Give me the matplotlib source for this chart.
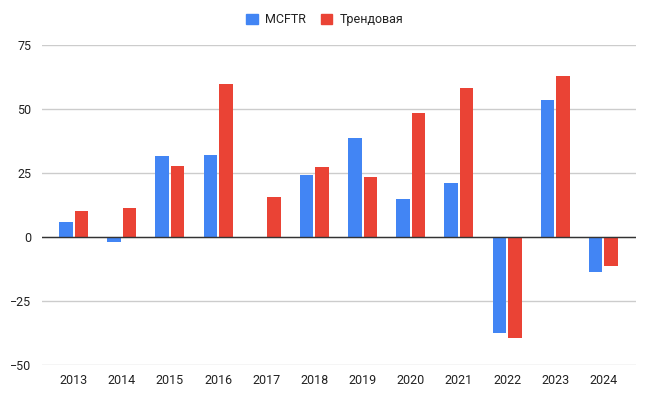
import matplotlib
matplotlib.use('Agg')
import matplotlib.pyplot as plt
from matplotlib.patches import Patch
import numpy as np

plt.rcParams['font.family'] = ['Roboto', 'DejaVu Sans']

years = ['2013', '2014', '2015', '2016', '2017', '2018', '2019', '2020',
         '2021', '2022', '2023', '2024']
mcftr = [6.1, -1.9, 31.9, 32.3, 0, 24.3, 38.7, 14.8, 21.4, -37.4, 53.5, -13.7]
trend = [10.3, 11.4, 27.7, 60.0, 15.7, 27.4, 23.7, 48.6, 58.4, -39.2, 63.1, -11.1]

blue = '#4285F4'
red = '#EA4335'

fig = plt.figure(figsize=(6.5, 3.93), dpi=100)
ax = fig.add_axes([0.065, 0.070, 0.913, 0.815])

x = np.arange(len(years))
w = 0.28
gap = 0.04
ax.bar(x - (w + gap) / 2, mcftr, w, color=blue, zorder=3)
ax.bar(x + (w + gap) / 2, trend, w, color=red, zorder=3)

ax.set_ylim(-50, 75)
ax.set_yticks([-50, -25, 0, 25, 50, 75])
ax.set_xlim(-0.65, 11.67)
ax.set_xticks(x)
ax.set_xticklabels(years)
ax.grid(axis='y', color='#cccccc', linewidth=1, zorder=0)
ax.axhline(0, color='#333333', linewidth=1, zorder=4)
for s in ax.spines.values():
    s.set_visible(False)
ax.tick_params(length=0, labelsize=9, colors='#222222')
ax.tick_params(axis='y', pad=8)
ax.tick_params(axis='x', pad=6)

handles = [Patch(color=blue), Patch(color=red)]
fig.legend(handles, ['MCFTR', 'Трендовая'], loc='upper center',
           bbox_to_anchor=(0.5, 0.995), ncol=2, frameon=False, fontsize=9,
           handlelength=0.9, handleheight=0.9, columnspacing=1.2,
           handletextpad=0.6, labelcolor='#222222')

fig.savefig('out.png', dpi=100, facecolor='white')
